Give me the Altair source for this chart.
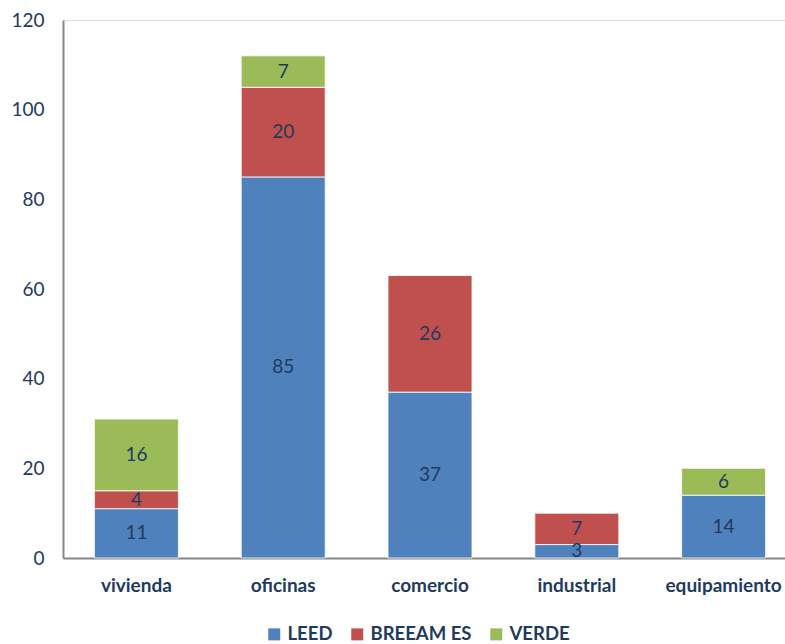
import altair as alt
import pandas as pd

categories = ["vivienda", "oficinas", "comercio", "industrial", "equipamiento"]
series = ["LEED", "BREEAM ES", "VERDE"]
leed = [11, 85, 37, 3, 14]
breeam = [4, 20, 26, 7, 0]
verde = [16, 7, 0, 0, 6]
colors = ["#4F81BD", "#C0504D", "#9BBB59"]
y_ticks = [0, 20, 40, 60, 80, 100, 120]

rows = []
for s_i, (s, vals) in enumerate(zip(series, [leed, breeam, verde])):
    for c, v in zip(categories, vals):
        rows.append({"category": c, "series": s, "order": s_i, "value": v})
df = pd.DataFrame(rows)

TXT = "#1F3A60"
FONT = "Lato"

base = alt.Chart(df).transform_filter("datum.value > 0").transform_stack(
    stack="value", groupby=["category"], as_=["y0", "y1"],
    sort=[alt.SortField("order", order="ascending")]
).transform_calculate(mid="(datum.y0 + datum.y1) / 2")

x = alt.X("category:N", sort=categories, title=None,
          scale=alt.Scale(paddingInner=0.428, paddingOuter=0.214, range=[0, 734]),
          axis=alt.Axis(labelAngle=0, labelFont=FONT, labelFontSize=19,
                        labelFontWeight="bold", labelColor=TXT, ticks=False,
                        labelPadding=18, domainColor="#868686", domainWidth=2))

bars = base.mark_bar(stroke="white", strokeWidth=0.8).encode(
    x=x,
    y=alt.Y("y0:Q", title=None,
            scale=alt.Scale(domain=[0, 120], nice=False),
            axis=alt.Axis(values=y_ticks, grid=False, ticks=False,
                          labelFont=FONT, labelFontSize=19, labelColor=TXT,
                          labelPadding=19, domainColor="#868686", domainWidth=2)),
    y2="y1:Q",
    color=alt.Color("series:N", sort=series,
                    scale=alt.Scale(domain=series, range=colors),
                    legend=alt.Legend(title=None, orient="none", direction="horizontal",
                                      columns=3, legendX=202, legendY=605,
                                      symbolType="square", symbolSize=144,
                                      symbolStrokeWidth=0, labelFont=FONT,
                                      labelFontSize=18.5, labelFontWeight="bold",
                                      labelColor=TXT, labelOffset=4,
                                      columnPadding=15, padding=0)),
)

texts = base.mark_text(font=FONT, fontSize=19, color=TXT, baseline="middle").encode(
    x=alt.X("category:N", sort=categories),
    y=alt.Y("mid:Q"),
    text=alt.Text("value:Q"),
)

chart = alt.layer(bars, texts).properties(
    width=722, height=538,
    autosize=alt.AutoSizeParams(type="none"),
    padding={"left": 63, "top": 20, "right": 0, "bottom": 86},
).configure_view(strokeWidth=0, stroke="transparent").configure(background="white")

chart.save("out.html", embed_options={"renderer": "svg", "actions": False})
